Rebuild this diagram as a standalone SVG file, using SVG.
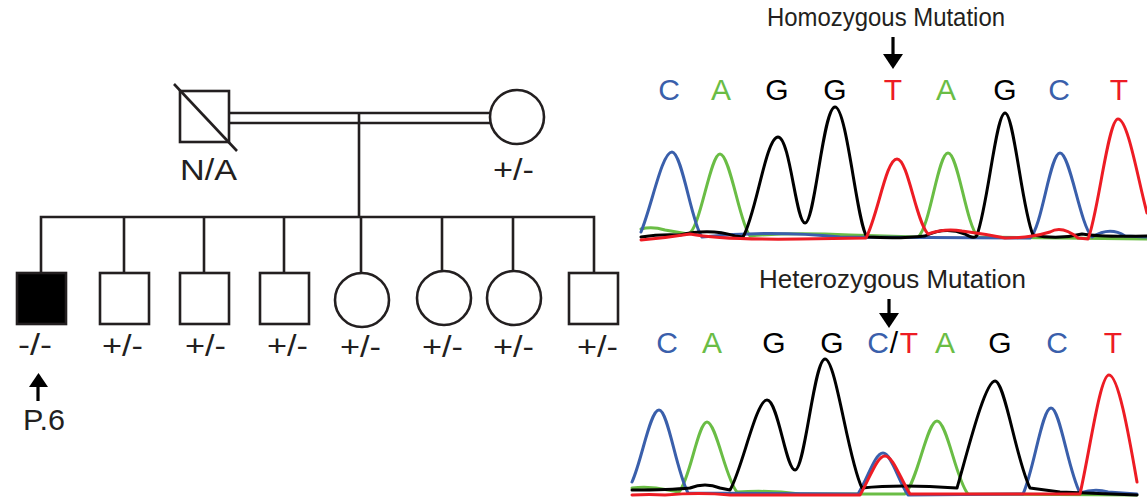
<svg xmlns="http://www.w3.org/2000/svg" width="1147" height="500" viewBox="0 0 1147 500">
<style>
.sym{fill:#fff;stroke:#231f20;stroke-width:2.6}
.aff{fill:#000;stroke:#231f20;stroke-width:2.6}
.ln{fill:none;stroke:#231f20;stroke-width:2.6}
.arr{fill:none;stroke:#000;stroke-width:3.2}
.lbl{font-family:"Liberation Sans",Arial,sans-serif;font-size:30px;fill:#231f20}
.ttl{font-family:"Liberation Sans Narrow","Liberation Sans",Arial,sans-serif;font-size:25px;fill:#231f20}
.base{font-family:"Liberation Sans",Arial,sans-serif;font-size:30px;text-anchor:middle}
.tr{fill:none;stroke-width:3;stroke-linejoin:round;stroke-linecap:round}
.b{fill:#3a5fab}.g{fill:#6abd45}.k{fill:#000}.r{fill:#ed1c24}
</style>
<rect width="1147" height="500" fill="#fff"/>

<g id="connectors">
  <line class="ln" x1="229" y1="113" x2="491" y2="113"/>
  <line class="ln" x1="229" y1="123" x2="491" y2="123"/>
  <line class="ln" x1="359" y1="113" x2="359" y2="217"/>
  <polyline class="ln" points="41,273 41,217 594,217 594,273"/>
  <line class="ln" x1="124" y1="217" x2="124" y2="273"/>
  <line class="ln" x1="204" y1="217" x2="204" y2="273"/>
  <line class="ln" x1="284" y1="217" x2="284" y2="273"/>
  <line class="ln" x1="361" y1="217" x2="361" y2="273"/>
  <line class="ln" x1="442" y1="217" x2="442" y2="271"/>
  <line class="ln" x1="513" y1="217" x2="513" y2="271"/>
</g>

<g id="father">
  <rect class="sym" x="180" y="91" width="49" height="51"/>
  <line class="ln" x1="174" y1="84" x2="237" y2="151"/>
  <text class="lbl" x="180" y="180" textLength="57" lengthAdjust="spacingAndGlyphs">N/A</text>
</g>
<g id="mother">
  <circle class="sym" cx="517" cy="117" r="27"/>
  <text class="lbl" x="493" y="180" textLength="41" lengthAdjust="spacingAndGlyphs">+/-</text>
</g>

<g id="child1">
  <rect class="aff" x="17" y="273" width="49" height="51"/>
  <text class="lbl" x="18" y="355" textLength="34" lengthAdjust="spacingAndGlyphs">-/-</text>
  <line class="arr" x1="38" y1="401" x2="38" y2="384"/>
  <polygon points="29,387 48,387 38.5,373" fill="#000"/>
  <text class="lbl" x="23" y="430" font-size="32" textLength="42" lengthAdjust="spacingAndGlyphs">P.6</text>
</g>
<g id="child2">
  <rect class="sym" x="100" y="273" width="49" height="51"/>
  <text class="lbl" x="102" y="356" textLength="41" lengthAdjust="spacingAndGlyphs">+/-</text>
</g>
<g id="child3">
  <rect class="sym" x="180" y="273" width="49" height="51"/>
  <text class="lbl" x="185" y="356" textLength="41" lengthAdjust="spacingAndGlyphs">+/-</text>
</g>
<g id="child4">
  <rect class="sym" x="260" y="273" width="49" height="51"/>
  <text class="lbl" x="267" y="356" textLength="41" lengthAdjust="spacingAndGlyphs">+/-</text>
</g>
<g id="child5">
  <circle class="sym" cx="362" cy="300" r="27"/>
  <text class="lbl" x="340" y="357" textLength="41" lengthAdjust="spacingAndGlyphs">+/-</text>
</g>
<g id="child6">
  <circle class="sym" cx="444" cy="298" r="27"/>
  <text class="lbl" x="422" y="357" textLength="41" lengthAdjust="spacingAndGlyphs">+/-</text>
</g>
<g id="child7">
  <circle class="sym" cx="514" cy="298" r="27"/>
  <text class="lbl" x="493" y="357" textLength="41" lengthAdjust="spacingAndGlyphs">+/-</text>
</g>
<g id="child8">
  <rect class="sym" x="569" y="273" width="49" height="51"/>
  <text class="lbl" x="577" y="357" textLength="41" lengthAdjust="spacingAndGlyphs">+/-</text>
</g>

<g id="chromatogram-homozygous">
  <text class="ttl" x="767" y="26" textLength="238" lengthAdjust="spacingAndGlyphs">Homozygous Mutation</text>
  <line class="arr" x1="893" y1="37" x2="893" y2="57"/>
  <polygon points="883,54 903,54 893,69" fill="#000"/>
  <text class="base b" x="669" y="100">C</text>
  <text class="base g" x="721" y="100">A</text>
  <text class="base k" x="777" y="100">G</text>
  <text class="base k" x="835" y="100">G</text>
  <text class="base r" x="893" y="100">T</text>
  <text class="base g" x="946" y="100">A</text>
  <text class="base k" x="1005" y="100">G</text>
  <text class="base b" x="1059" y="100">C</text>
  <text class="base r" x="1119" y="100">T</text>
  <path class="tr" stroke="#6abd45" d="M641,229 Q652,226 665,230 L688,234 C700,232 710,154 720,154 C730,154 740,225 750,236 Q790,232 850,235 L918,237 C930,228 938,153 948,153 C958,153 966,225 978,237 L1147,239"/>
  <path class="tr" stroke="#3a5fab" d="M641,232 C652,205 662,152 672,152 C682,152 692,225 702,237 Q770,230 840,237 L1030,238 C1042,228 1050,153 1060,153 C1070,153 1080,225 1092,237 Q1110,226 1125,236 L1147,237"/>
  <path class="tr" stroke="#000" d="M641,237 Q660,234 680,235 Q710,228 735,236 L743,237 C756,215 766,137 778,137 C790,137 796,223 805,223 C815,223 823,107 835,107 C847,107 857,225 867,237 Q900,239 925,236 Q945,226 965,234 Q975,240 977,235 C988,205 996,113 1005,113 C1014,113 1022,210 1033,235 Q1058,240 1082,234 Q1100,237 1147,236"/>
  <path class="tr" stroke="#ed1c24" d="M641,240 Q665,238 690,234 Q720,240 800,239 L866,238 C878,215 886,159 897,159 C908,159 916,222 928,234 Q945,228 962,231 Q985,234 1005,238 Q1030,238 1050,232 Q1062,225 1078,238 L1088,239 C1098,215 1108,119 1118,119 C1128,119 1138,180 1147,213"/>
</g>

<g id="chromatogram-heterozygous">
  <text class="ttl" x="759" y="288" textLength="267" lengthAdjust="spacingAndGlyphs">Heterozygous Mutation</text>
  <line class="arr" x1="889" y1="299" x2="889" y2="316"/>
  <polygon points="879,313 899,313 889,328" fill="#000"/>
  <text class="base b" x="667" y="353">C</text>
  <text class="base g" x="712" y="353">A</text>
  <text class="base k" x="774" y="353">G</text>
  <text class="base k" x="832" y="353">G</text>
  <text class="base b" x="878" y="353">C</text>
  <text class="base k" x="894" y="353">/</text>
  <text class="base r" x="909" y="353">T</text>
  <text class="base g" x="945" y="353">A</text>
  <text class="base k" x="1000" y="353">G</text>
  <text class="base b" x="1057" y="353">C</text>
  <text class="base r" x="1113" y="353">T</text>
  <path class="tr" stroke="#6abd45" d="M632,488 Q650,486 668,490 L679,492 C690,480 698,422 707,422 C716,422 726,480 737,492 Q770,490 800,494 L905,494 C918,480 927,421 937,421 C947,421 956,480 968,494 L1137,495"/>
  <path class="tr" stroke="#3a5fab" d="M632,482 C642,460 650,410 659,410 C668,410 676,470 688,493 L858,494 C868,478 875,453 883,453 C891,453 898,480 908,495 L1023,494 C1034,470 1042,408 1051,408 C1060,408 1068,470 1080,493 Q1095,488 1108,492 L1137,494"/>
  <path class="tr" stroke="#000" d="M632,490 Q670,490 690,488 Q705,482 720,488 L730,490 C742,470 756,400 767,400 C778,400 786,470 795,470 C805,470 814,359 825,359 C836,359 848,460 862,488 Q900,484 957,488 C968,450 985,381 995,381 C1005,381 1016,460 1030,488 Q1045,490 1060,492 L1137,495"/>
  <path class="tr" stroke="#ed1c24" d="M632,495 Q650,494 665,495 Q700,492 730,495 L860,495 C870,478 877,456 885,456 C893,456 900,478 910,494 L1080,494 C1090,450 1100,375 1109,375 C1118,375 1128,430 1137,482"/>
</g>
</svg>
